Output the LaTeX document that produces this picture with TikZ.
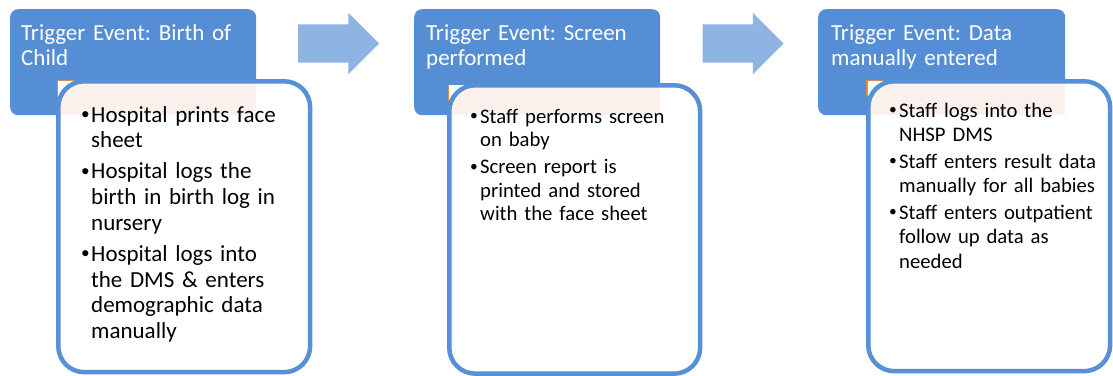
\documentclass[tikz,border=0pt]{standalone}
\usepackage{fontspec}
\setmainfont{Carlito}
\usetikzlibrary{shapes.arrows}
\definecolor{hblue}{RGB}{85,142,213}
\definecolor{bline}{RGB}{88,144,214}
\definecolor{ablue}{RGB}{142,180,227}
\definecolor{corange}{RGB}{217,140,82}
\definecolor{peach}{RGB}{250,241,236}
\newcommand\bpar[1]{\hangindent=10pt\hangafter=1\noindent\makebox[10pt][l]{\raisebox{0.12em}{\scalebox{0.75}{\textbullet}}}#1\par}
\begin{document}
\begin{tikzpicture}[x=1pt,y=-1pt,
  hdr/.style={fill=hblue, rounded corners=8pt, inner sep=0pt, anchor=north west},
  bx/.style={fill=white, inner sep=0pt, anchor=north west},
  bxline/.style={draw=bline, line width=4.5pt, rounded corners=26pt},
  blockarrow/.style={single arrow, fill=ablue, inner sep=0pt, single arrow head extend=11.5pt, minimum width=61pt},
  htext/.style={text=white, anchor=base west, inner sep=0pt, text width=260pt, align=left, font=\frenchspacing\fontsize{23}{25}\selectfont},
  btext/.style={text=black, anchor=base west, inner sep=0pt, text width=260pt, align=left}
]
\useasboundingbox (0,0) rectangle (1113,375);

% headers
\node[hdr, minimum width=246pt, minimum height=106pt] (h1) at (10,9) {};
\node[hdr, minimum width=246pt, minimum height=106pt] (h2) at (414,9) {};
\node[hdr, minimum width=247pt, minimum height=106pt] (h3) at (818,9) {};

% arrows
\node[blockarrow, minimum height=81pt] (a1) at (329,43.5) {\rule{0pt}{38pt}};
\node[blockarrow, minimum height=81pt] (a2) at (733.5,43.5) {\rule{0pt}{38pt}};

% orange corner accents
\fill[corange] (57,80) -- (75,80) -- (57,97) -- cycle;
\fill[corange] (448,85) -- (465,85) -- (448,102) -- cycle;
\fill[corange] (866,80) -- (883,80) -- (866,97) -- cycle;

% boxes
\node[bx, minimum width=251.5pt, minimum height=290.5pt] (b1) at (58.25,81.25) {};
\node[bx, minimum width=250.5pt, minimum height=288pt] (b2) at (449.25,85.25) {};
\node[bx, minimum width=241.5pt, minimum height=289.5pt] (b3) at (868.25,81.25) {};

\foreach \b/\h in {b1/h1,b2/h2,b3/h3}{
  \begin{scope}
    \clip[rounded corners=26pt] (\b.north west) rectangle (\b.south east);
    \fill[peach] (\b.north west) rectangle (\h.south east);
  \end{scope}
  \draw[bxline] (\b.north west) rectangle (\b.south east);
}

% header texts
\node[htext] (t1) at (21,40) {Trigger Event: Birth of\newline Child};
\node[htext] (t2) at (426,40) {Trigger Event: Screen\newline performed};
\node[htext] (t3) at (831,40) {Trigger Event: Data\newline manually entered};

% body texts
\node[btext, font=\frenchspacing\fontsize{23}{25.7}\selectfont] (l1) at (81,122) {%
\bpar{Hospital prints face\newline sheet}\vspace{5.5pt}%
\bpar{Hospital logs the\newline birth in birth log in\newline nursery}\vspace{5.5pt}%
\bpar{Hospital logs into\newline the DMS \& enters\newline demographic data\newline manually}};

\node[btext, font=\frenchspacing\fontsize{20.7}{23.5}\selectfont] (l2) at (470,123) {%
\bpar{Staff performs screen\newline on baby}\vspace{3.5pt}%
\bpar{Screen report is\newline printed and stored\newline with the face sheet}};

\node[btext, font=\frenchspacing\fontsize{20.7}{24.5}\selectfont] (l3) at (889,117) {%
\bpar{Staff logs into the\newline NHSP DMS}\vspace{2pt}%
\bpar{Staff enters result data\newline manually for all babies}\vspace{2pt}%
\bpar{Staff enters outpatient\newline follow up data as\newline needed}};
\end{tikzpicture}
\end{document}
